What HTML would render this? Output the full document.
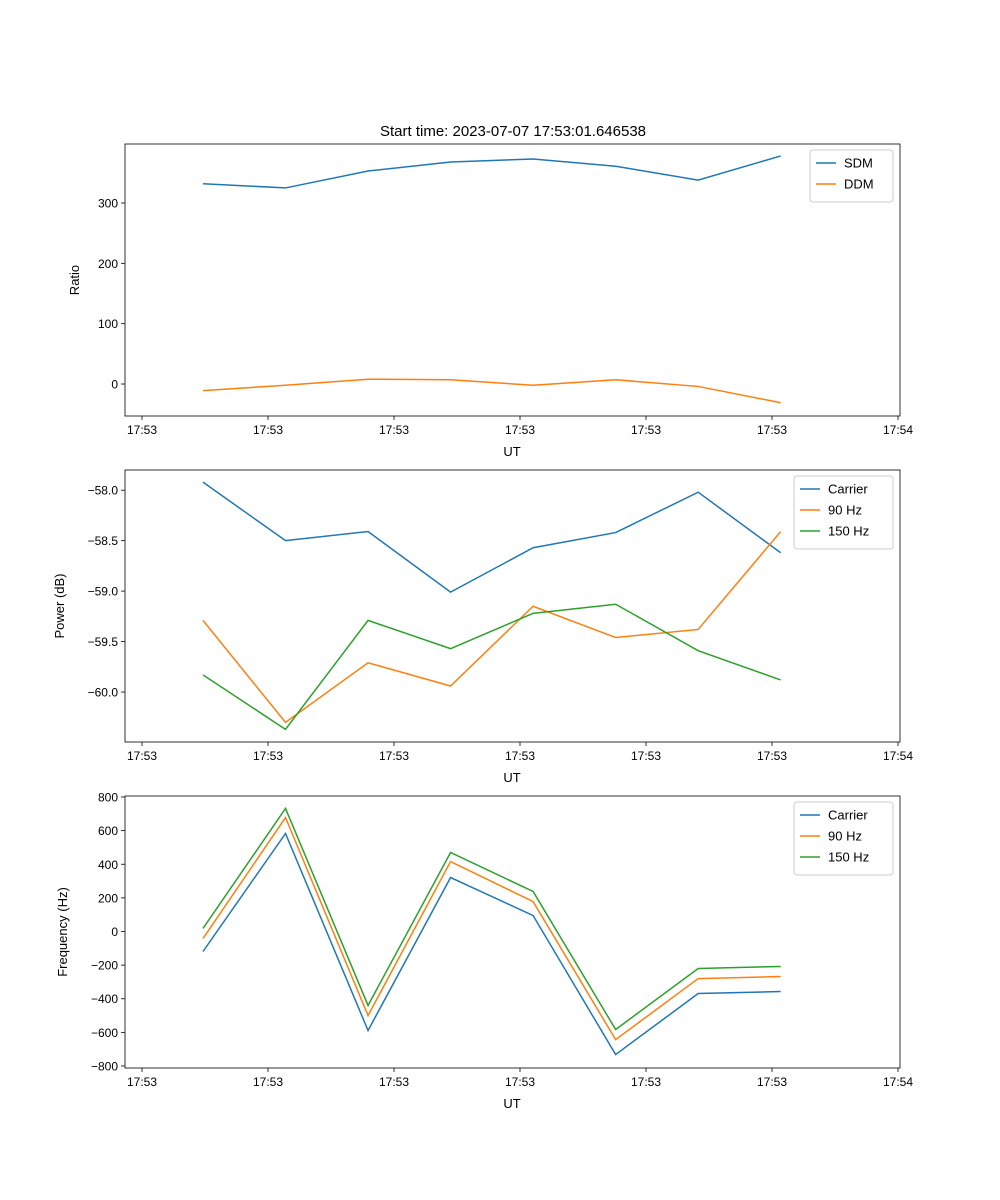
<!DOCTYPE html>
<html><head><meta charset="utf-8"><style>
body{margin:0;background:#fff}
svg{display:block;font-family:"Liberation Sans","DejaVu Sans",sans-serif}
</style></head><body>
<svg id="chart" width="1000" height="1200" viewBox="0 0 1000 1200"></svg>
<script>
const timeIdx = [0,1,2,3,4,5,6,7];
const xTickLabels = ["17:53","17:53","17:53","17:53","17:53","17:53","17:54"];
const sdm = [332,325,353,368,373,361,338,378];
const ddm = [-11,-2,8,7,-2,7,-4,-31];
const powCarrier = [-57.92,-58.50,-58.41,-59.01,-58.57,-58.42,-58.02,-58.62];
const pow90 = [-59.29,-60.30,-59.71,-59.94,-59.15,-59.46,-59.38,-58.41];
const pow150 = [-59.83,-60.37,-59.29,-59.57,-59.22,-59.13,-59.59,-59.88];
const freqCarrier = [-119,583,-589,321,95,-732,-369,-357];
const freq90 = [-42,678,-500,416,178,-643,-280,-268];
const freq150 = [18,732,-440,470,238,-583,-220,-208];
const ratioTicks = [0,100,200,300];
const powerTicks = [-60.0,-59.5,-59.0,-58.5,-58.0];
const freqTicks = [-800,-600,-400,-200,0,200,400,600,800];

const NS="http://www.w3.org/2000/svg";
const svg=document.getElementById('chart');
function mk(tag,attrs,parent){const e=document.createElementNS(NS,tag);for(const k in attrs)e.setAttribute(k,attrs[k]);(parent||svg).appendChild(e);return e;}
const L=125,R=900;
// x axis: tick i at 142+126*i ; data j at tick-units 0.484+0.655*j
function xTick(i){return 142+126*i;}
function xData(j){return 142+126*(0.484+0.655*j);}
const colors=["#1f77b4","#ff7f0e","#2ca02c"];

function panel(name,top,bot,ymin,ymax,yticks,fmt,ylabel,ylabelX,series,names,legendW){
  const g=mk('g',{});
  
  
  const y=v=>bot-(v-ymin)/(ymax-ymin)*(bot-top);
  series.forEach((s,k)=>{
    const p=mk('polyline',{points:s.map((v,j)=>xData(timeIdx[j])+','+y(v)).join(' '),fill:'none',stroke:colors[k],'stroke-width':1.5},g);
    
    
  });
  const fr=mk('rect',{x:L,y:top,width:R-L,height:bot-top,fill:'none',stroke:'#000','stroke-width':0.8},g);
  
  
  xTickLabels.forEach((t,i)=>{
    const x=xTick(i);
    mk('line',{x1:x,x2:x,y1:bot,y2:bot+4,stroke:'#000','stroke-width':0.8},g);
    const tx=mk('text',{x:x,y:bot+18,'text-anchor':'middle','font-size':12},g);
    tx.textContent=t;
    
    
  });
  const xl=mk('text',{x:512,y:bot+40,'text-anchor':'middle','font-size':13},g);
  xl.textContent='UT';
  
  
  yticks.forEach(v=>{
    const yy=y(v);
    mk('line',{x1:L-4,x2:L,y1:yy,y2:yy,stroke:'#000','stroke-width':0.8},g);
    const tx=mk('text',{x:L-7,y:yy+4.5,'text-anchor':'end','font-size':12},g);
    tx.textContent=fmt(v);
    
    
  });
  const yc=(top+bot)/2;
  const yl=mk('text',{x:ylabelX,y:yc,'text-anchor':'middle','font-size':13,transform:`rotate(-90 ${ylabelX} ${yc})`},g);
  yl.textContent=ylabel;
  
  
  // legend
  const lx=R-7-legendW, ly=top+6, lh=10+names.length*21;
  const lg=mk('g',{},g);
  
  
  mk('rect',{x:lx,y:ly,width:legendW,height:lh,rx:3,fill:'#fff','fill-opacity':0.8,stroke:'#ccc','stroke-width':1},lg);
  names.forEach((n,k)=>{
    const yy=ly+13+k*21;
    const e=mk('g',{},lg);
    
    
    mk('line',{x1:lx+6,x2:lx+26,y1:yy,y2:yy,stroke:colors[k],'stroke-width':1.5},e);
    const t=mk('text',{x:lx+34,y:yy+4.5,'font-size':13},e);
    t.textContent=n;
  });
}
const title=mk('text',{x:513,y:136,'text-anchor':'middle','font-size':15});
title.textContent='Start time: 2023-07-07 17:53:01.646538';


panel('ratio',144,416,-53,397.8,ratioTicks,v=>String(v),'Ratio',79,[sdm,ddm],['SDM','DDM'],83);
panel('power',470,742,-60.495,-57.80,powerTicks,v=>'\u2212'.repeat(v<0?1:0)+Math.abs(v).toFixed(1),'Power (dB)',64,[powCarrier,pow90,pow150],['Carrier','90 Hz','150 Hz'],99);
panel('frequency',796,1068,-812,806,freqTicks,v=>(v<0?'\u2212':'')+Math.abs(v),'Frequency (Hz)',67,[freqCarrier,freq90,freq150],['Carrier','90 Hz','150 Hz'],99);
</script>
</body></html>
